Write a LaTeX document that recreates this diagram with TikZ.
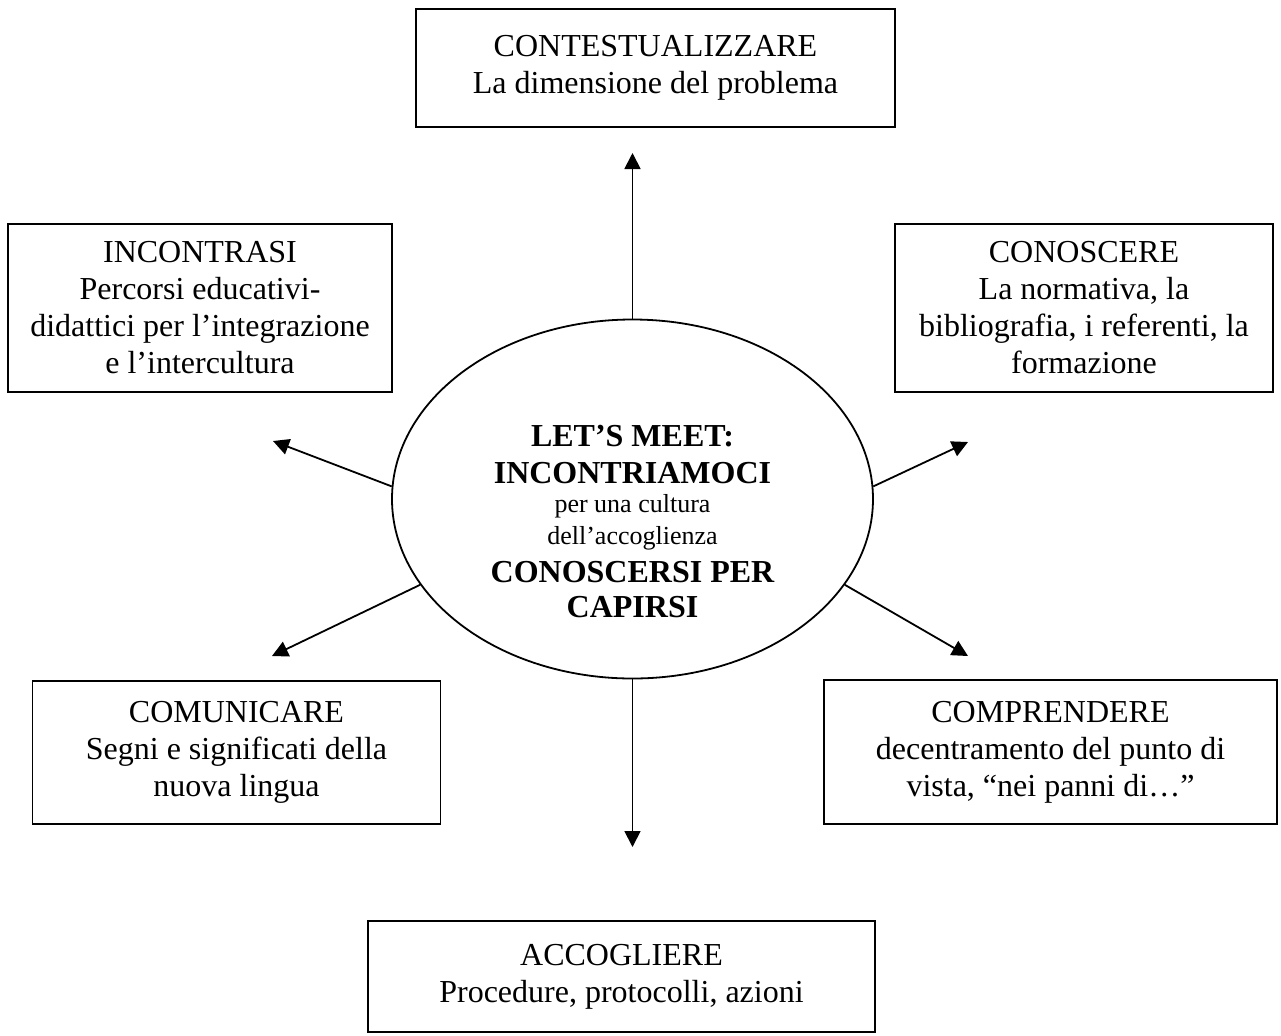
\documentclass[tikz,border=0pt]{standalone}
\usepackage{fontspec}
\setmainfont{Liberation Serif}
\usepackage{tikz}
\usetikzlibrary{arrows.meta,shapes.geometric,positioning}

\begin{document}
\begin{tikzpicture}[x=0.5pt,y=-0.5pt,
		box/.style={draw,line width=0.9pt,rectangle,inner sep=0pt,align=center,
			font=\fontsize{16}{18.5}\selectfont},
		hub/.style={draw,line width=0.9pt,ellipse,inner sep=0pt,
			minimum width=240.5pt,minimum height=179.5pt},
		arr/.style={line width=0.9pt,-{Triangle[length=8pt,width=8pt]}}
		]
	\useasboundingbox (0,0) rectangle (1281,1035);
	% the six boxes
	\node[box,minimum width=239.5pt,minimum height=59pt] (ctx) at (655.5,68)
		{CONTESTUALIZZARE\\La dimensione del problema};
	\node[box,minimum width=192pt,minimum height=84pt] (inc) at (200,308)
		{INCONTRASI\\Percorsi educativi-\\didattici per l’integrazione\\e l’intercultura};
	\node[box,minimum width=189pt,minimum height=84pt] (con) at (1084,308)
		{CONOSCERE\\La normativa, la\\bibliografia, i referenti, la\\formazione};
	\node[box,minimum width=204pt,minimum height=71.5pt] (com) at (236.5,752.5)
		{COMUNICARE\\Segni e significati della\\nuova lingua};
	\node[box,minimum width=226.5pt,minimum height=72pt] (cmp) at (1050.5,752)
		{COMPRENDERE\\decentramento del punto di\\vista, “nei panni di…”};
	\node[box,minimum width=253.5pt,minimum height=55.5pt] (acc) at (621.5,976.5)
		{ACCOGLIERE\\Procedure, protocolli, azioni};
	% centre
	\node[hub] (hub) at (632.5,499) {};
	\node[align=center,inner sep=0pt,font=\fontsize{16}{18.5}\selectfont\bfseries]
		(hubtxt) at (632.5,521.5)
		{LET’S MEET:\\INCONTRIAMOCI\\[-4pt]
		{\fontsize{13}{15}\selectfont\mdseries per una cultura}\\[-2.5pt]
		{\fontsize{13}{15}\selectfont\mdseries dell’accoglienza}\\[0.5pt]
		CONOSCERSI PER\\[-1pt]CAPIRSI};
	% arrow ends
	\coordinate (tN) at (632.5,153);
	\coordinate (tNW) at (273,441);
	\coordinate (tSW) at (272,656);
	\coordinate (tNE) at (968,442);
	\coordinate (tSE) at (968,656);
	\coordinate (tS) at (632.5,847);
	\draw[arr] (hub.north) -- (tN);
	\draw[arr] (hub.177) -- (tNW);
	\draw[arr] (hub.202) -- (tSW);
	\draw[arr] (hub.3) -- (tNE);
	\draw[arr] (hub.338) -- (tSE);
	\draw[arr] (hub.south) -- (tS);
\end{tikzpicture}
\end{document}
